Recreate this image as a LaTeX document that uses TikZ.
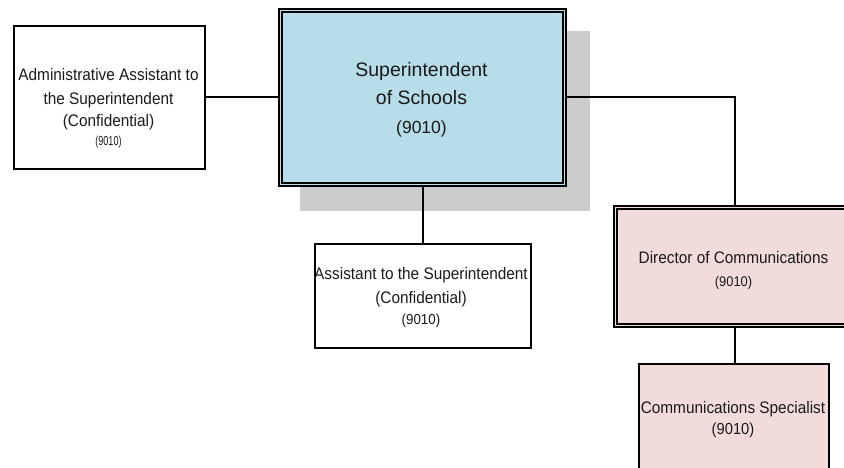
\documentclass[tikz,border=0pt]{standalone}
\usepackage{fontspec}
\setmainfont{Liberation Sans}
\newfontfamily\condfont{Liberation Sans}[FakeStretch=0.92]
\newfontfamily\narrowfont{Liberation Sans}[FakeStretch=0.7]
\definecolor{supblue}{HTML}{B7DDE8}
\definecolor{dirpink}{HTML}{F2DCDB}
\definecolor{shadowgray}{HTML}{CCCCCC}
\definecolor{txtcol}{HTML}{1A1A1A}
\begin{document}
\begin{tikzpicture}[x=1pt,y=-1pt,
  box/.style={draw=black, line width=2pt, inner sep=0pt, anchor=north west},
  innerline/.style={draw=black, line width=1.2pt},
  conn/.style={draw=black, line width=2pt},
  txt/.style={anchor=base, inner sep=0pt, text=txtcol},
  big/.style={font=\fontsize{19.5}{24}\selectfont},
  bignum/.style={font=\fontsize{17.5}{21}\selectfont},
  small/.style={font=\condfont\fontsize{16.7}{20}\selectfont},
]
\useasboundingbox (0,0) rectangle (844,468);
\clip (0,0) rectangle (844,468);

% shadow of the superintendent box
\node[fill=shadowgray, anchor=north west, inner sep=0pt, minimum width=290pt, minimum height=180pt] (supshadow) at (300,31) {};

% boxes
\node[box, minimum width=191pt, minimum height=143pt] (admin) at (13,25) {};
\node[box, fill=supblue, minimum width=287pt, minimum height=177pt] (sup) at (278,8) {};
\draw[innerline] ([shift={(4,4)}]sup.north west) rectangle ([shift={(-4,-4)}]sup.south east);
\node[box, minimum width=216pt, minimum height=104pt] (asst) at (313.5,243) {};
\node[box, fill=dirpink, minimum width=241pt, minimum height=121pt] (dir) at (613,205) {};
\draw[innerline] ([shift={(4,4)}]dir.north west) rectangle ([shift={(-4,-4)}]dir.south east);
\node[box, fill=dirpink, minimum width=190pt, minimum height=130pt] (spec) at (638,363) {};

% connectors
\draw[conn] (admin.east) -- (admin.east -| sup.west);
\draw[conn] (sup.south) -- (sup.south |- asst.north);
\draw[conn] (sup.east) -- (sup.east -| dir.north) -- (dir.north);
\draw[conn] (dir.south) -- (dir.south |- spec.north);

% texts
\node[txt, small] (admT1) at (108.5,81) {Administrative Assistant to};
\node[txt, small] (admT2) at (108.5,105) {the Superintendent};
\node[txt, small] (admT3) at (108.5,127) {(Confidential)};
\node[txt, font=\narrowfont\fontsize{13}{15}\selectfont] (admT4) at (108.5,146) {(9010)};

\node[txt, big] (supT1) at (421.5,77) {Superintendent};
\node[txt, big] (supT2) at (421.5,105) {of Schools};
\node[txt, bignum] (supT3) at (421.5,134) {(9010)};

\node[txt, small] (asstT1) at (421,279) {Assistant to the Superintendent};
\node[txt, small] (asstT2) at (421,303) {(Confidential)};
\node[txt, font=\condfont\fontsize{14.5}{17}\selectfont] (asstT3) at (421,324) {(9010)};

\node[txt, small] (dirT1) at (733.5,263) {Director of Communications};
\node[txt, font=\condfont\fontsize{14}{17}\selectfont] (dirT2) at (733.5,286) {(9010)};

\node[txt, small] (specT1) at (733,413) {Communications Specialist};
\node[txt, font=\condfont\fontsize{16}{19}\selectfont] (specT2) at (733,434) {(9010)};
\end{tikzpicture}
\end{document}
